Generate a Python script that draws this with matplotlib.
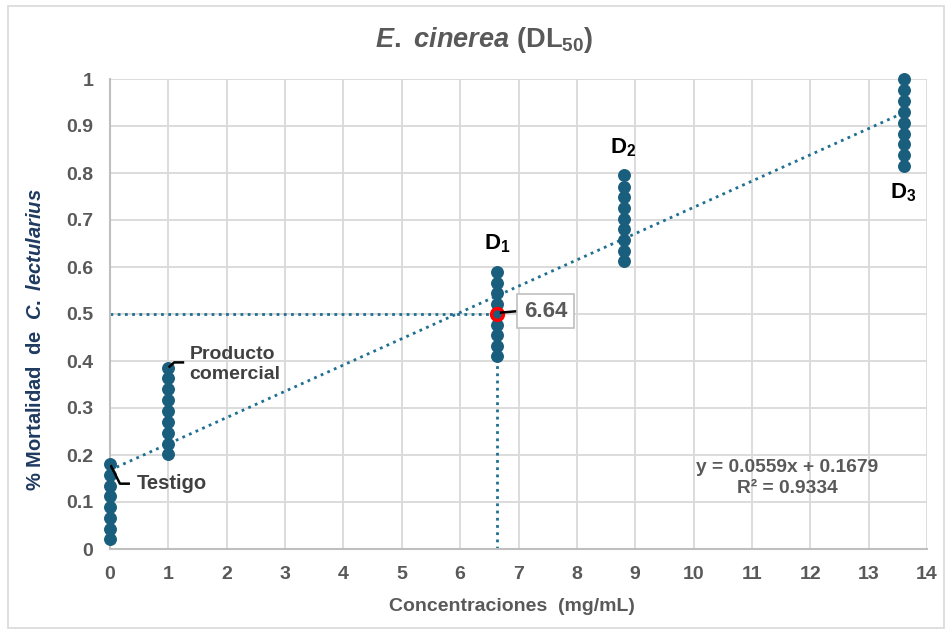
import matplotlib
matplotlib.use("Agg")
import matplotlib.pyplot as plt
from matplotlib.patches import Rectangle
import numpy as np

# ---- data ----
concentrations = [0, 1, 6.64, 8.8, 13.6]
testigo = [0.181, 0.158, 0.135, 0.112, 0.089, 0.066, 0.043, 0.021]
producto = [0.386, 0.363, 0.340, 0.316, 0.293, 0.270, 0.247, 0.224, 0.202]
d1 = [0.590, 0.567, 0.545, 0.522, 0.500, 0.477, 0.455, 0.432, 0.410]
d2 = [0.795, 0.771, 0.748, 0.725, 0.702, 0.680, 0.657, 0.634, 0.612]
d3 = [1.000, 0.977, 0.953, 0.930, 0.907, 0.884, 0.861, 0.838, 0.815]
series = [testigo, producto, d1, d2, d3]
slope, intercept = 0.0559, 0.1679
r2 = 0.9334
dl50_x, dl50_y = 6.64, 0.5
x_ticks = list(range(0, 15))
y_ticks = [round(0.1 * i, 1) for i in range(0, 11)]
y_tick_labels = ["0", "0.1", "0.2", "0.3", "0.4", "0.5", "0.6", "0.7", "0.8", "0.9", "1"]

plt.rcParams['font.family'] = ['Liberation Sans', 'DejaVu Sans']
plt.rcParams['mathtext.fontset'] = 'custom'
plt.rcParams['mathtext.rm'] = 'Liberation Sans:bold'
plt.rcParams['mathtext.bf'] = 'Liberation Sans:bold'
plt.rcParams['mathtext.sf'] = 'Liberation Sans:bold'
plt.rcParams['mathtext.it'] = 'Liberation Sans:italic:bold'

GRAY = '#595959'
PT = '#1A5E7E'
LINE = '#1F6F91'
NAVY = '#1F3A60'

fig = plt.figure(figsize=(9.49, 6.33), dpi=100)
fig.patches.append(Rectangle((8 / 949, 1 - 628 / 633), (944 - 8) / 949, (628 - 6) / 633,
                             transform=fig.transFigure, fill=False, edgecolor='#D9D9D9', lw=1.2))
ax = fig.add_axes([110 / 949, 1 - 549 / 633, (927 - 110) / 949, (549 - 79) / 633])

ax.set_xlim(0, 14)
ax.set_ylim(0, 1)
ax.set_xticks(x_ticks)
ax.set_yticks(y_ticks)
ax.set_yticklabels(y_tick_labels)
ax.grid(True, color='#D9D9D9', lw=1.3)
ax.set_axisbelow(True)
for s in ['top', 'right']:
    ax.spines[s].set_visible(False)
for s in ['left', 'bottom']:
    ax.spines[s].set_color('#BFBFBF')
    ax.spines[s].set_linewidth(1.5)
ax.tick_params(length=0, pad=12, labelsize=14, labelcolor=GRAY)
for lab in ax.get_xticklabels() + ax.get_yticklabels():
    lab.set_fontweight('bold')

# trendline
xt = np.array([0, concentrations[-1]])
ax.plot(xt, slope * xt + intercept, ls=(0, (1, 1.6)), lw=2, color=LINE, zorder=2)
# DL50 guide lines
ax.plot([0, dl50_x], [dl50_y, dl50_y], ls=(0, (1, 1.6)), lw=2, color=LINE, zorder=2)
ax.plot([dl50_x, dl50_x], [0, dl50_y], ls=(0, (1, 1.6)), lw=2, color=LINE, zorder=2)

# points
for xc, ys in zip(concentrations, series):
    ax.plot([xc] * len(ys), ys, 'o', ms=8.3, color=PT, zorder=3, clip_on=False)

ax.plot([dl50_x], [dl50_y], 'o', ms=8.5, mfc='none', mec='#FF0000', mew=2.5, zorder=4)

# labels for doses
ax.text(6.64, 0.625, r"$\mathrm{D_1}$", ha='center', va='bottom', fontsize=16, color='black')
ax.text(8.8, 0.83, r"$\mathrm{D_2}$", ha='center', va='bottom', fontsize=16, color='black')
ax.text(13.6, 0.735, r"$\mathrm{D_3}$", ha='center', va='bottom', fontsize=16, color='black')

# Producto comercial
ax.plot([1.02, 1.1, 1.25], [0.388, 0.397, 0.397], color='black', lw=1.8, zorder=5)
ax.text(1.36, 0.393, "Producto\ncomercial", ha='left', va='center', fontsize=14,
        fontweight='bold', color='#404040', linespacing=1.2)
# Testigo
ax.plot([0.02, 0.17, 0.32], [0.176, 0.139, 0.139], color='black', lw=1.8, zorder=5)
ax.text(0.46, 0.139, "Testigo", ha='left', va='center', fontsize=14.5,
        fontweight='bold', color='#404040')

# DL50 annotation box
ax.plot([6.7, 6.98], [0.503, 0.506], color='black', lw=1.8, zorder=5)
ax.text(7.09, 0.506, "6.64", ha='left', va='center', fontsize=16, fontweight='bold', color=GRAY,
        bbox=dict(boxstyle='square,pad=0.3', fc='white', ec='#BFBFBF', lw=1.2), zorder=6)

# equation
ax.text(11.6, 0.151, "y = 0.0559x + 0.1679\nR² = 0.9334", ha='center', va='center',
        fontsize=13.8, fontweight='bold', color=GRAY, linespacing=1.25)

ax.set_xlabel("Concentraciones  (mg/mL)", fontsize=14, fontweight='bold', color=GRAY)
ax.xaxis.set_label_coords(0.492, -0.104)
fig.text(36 / 949, 1 - 340 / 633, r"% Mortalidad  de  $\mathit{C.}\ \mathit{lectularius}$",
         rotation=90, ha='center', va='center', fontsize=14.5, fontweight='bold', color=NAVY)

fig.text(484 / 949, 1 - 40 / 633, r"$\mathit{E.\ cinerea}\ \mathrm{(DL_{50})}$", ha='center',
         va='center', fontsize=19.5, color=GRAY)

fig.savefig("out.png", dpi=100)
